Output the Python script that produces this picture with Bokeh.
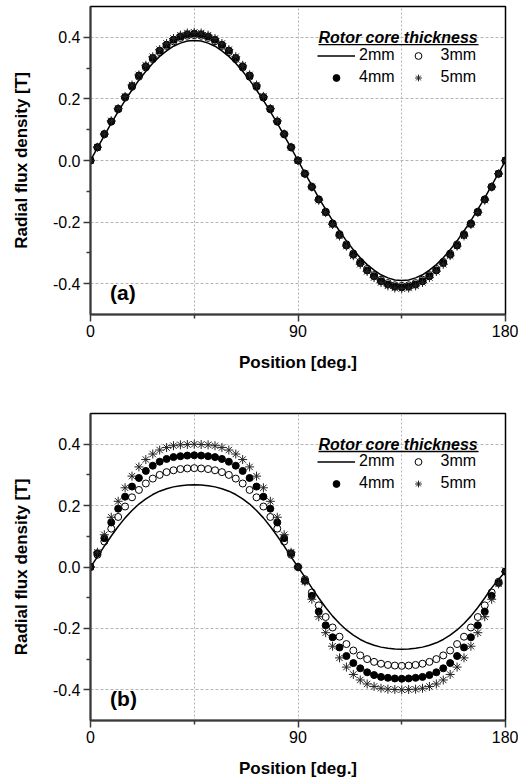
import numpy as np
from bokeh.plotting import figure
from bokeh.layouts import column
from bokeh.models import (Range1d, FixedTicker, PrintfTickFormatter, Legend, LegendItem,
                          Label, BoxAnnotation)
from bokeh.embed import file_html
from bokeh.resources import INLINE

# ---------------- data ----------------
position = [0, 3, 6, 9, 12, 15, 18, 21, 24, 27, 30, 33, 36, 39, 42, 45, 48, 51, 54, 57, 60,
            63, 66, 69, 72, 75, 78, 81, 84, 87, 90, 93, 96, 99, 102, 105, 108, 111, 114, 117,
            120, 123, 126, 129, 132, 135, 138, 141, 144, 147, 150, 153, 156, 159, 162, 165,
            168, 171, 174, 177, 180]

a_2mm = [0.000, 0.041, 0.081, 0.121, 0.159, 0.195, 0.229, 0.261, 0.290, 0.316, 0.338, 0.356, 0.371, 0.381, 0.388, 0.390,
         0.388, 0.381, 0.371, 0.356, 0.338, 0.316, 0.290, 0.261, 0.229, 0.195, 0.159, 0.121, 0.081, 0.041, 0.000,
         -0.041, -0.081, -0.121, -0.159, -0.195, -0.229, -0.261, -0.290, -0.316, -0.338, -0.356, -0.371, -0.381, -0.388, -0.390,
         -0.388, -0.381, -0.371, -0.356, -0.338, -0.316, -0.290, -0.261, -0.229, -0.195, -0.159, -0.121, -0.081, -0.041, 0.000]
a_3mm = [0.000, 0.043, 0.085, 0.126, 0.166, 0.204, 0.239, 0.272, 0.302, 0.329, 0.352, 0.372, 0.387, 0.398, 0.405, 0.407,
         0.405, 0.398, 0.387, 0.372, 0.352, 0.329, 0.302, 0.272, 0.239, 0.204, 0.166, 0.126, 0.085, 0.043, 0.000,
         -0.043, -0.085, -0.126, -0.166, -0.204, -0.239, -0.272, -0.302, -0.329, -0.352, -0.372, -0.387, -0.398, -0.405, -0.407,
         -0.405, -0.398, -0.387, -0.372, -0.352, -0.329, -0.302, -0.272, -0.239, -0.204, -0.166, -0.126, -0.085, -0.043, 0.000]
a_4mm = [0.000, 0.043, 0.086, 0.127, 0.168, 0.206, 0.242, 0.276, 0.306, 0.333, 0.357, 0.376, 0.392, 0.403, 0.410, 0.412,
         0.410, 0.403, 0.392, 0.376, 0.357, 0.333, 0.306, 0.276, 0.242, 0.206, 0.168, 0.127, 0.086, 0.043, 0.000,
         -0.043, -0.086, -0.127, -0.168, -0.206, -0.242, -0.276, -0.306, -0.333, -0.357, -0.376, -0.392, -0.403, -0.410, -0.412,
         -0.410, -0.403, -0.392, -0.376, -0.357, -0.333, -0.306, -0.276, -0.242, -0.206, -0.168, -0.127, -0.086, -0.043, 0.000]
a_5mm = [0.000, 0.043, 0.086, 0.129, 0.169, 0.208, 0.245, 0.278, 0.309, 0.337, 0.360, 0.380, 0.396, 0.407, 0.414, 0.416,
         0.414, 0.407, 0.396, 0.380, 0.360, 0.337, 0.309, 0.278, 0.245, 0.208, 0.169, 0.129, 0.086, 0.043, 0.000,
         -0.043, -0.086, -0.129, -0.169, -0.208, -0.245, -0.278, -0.309, -0.337, -0.360, -0.380, -0.396, -0.407, -0.414, -0.416,
         -0.414, -0.407, -0.396, -0.380, -0.360, -0.337, -0.309, -0.278, -0.245, -0.208, -0.169, -0.129, -0.086, -0.043, 0.000]

b_2mm = [0.000, 0.033, 0.068, 0.101, 0.132, 0.160, 0.184, 0.205, 0.222, 0.236, 0.247, 0.255, 0.261, 0.265, 0.267, 0.268,
         0.267, 0.265, 0.261, 0.255, 0.247, 0.236, 0.222, 0.205, 0.184, 0.160, 0.132, 0.101, 0.068, 0.033, 0.000,
         -0.033, -0.068, -0.101, -0.132, -0.160, -0.184, -0.205, -0.222, -0.236, -0.247, -0.255, -0.261, -0.265, -0.267, -0.268,
         -0.267, -0.265, -0.261, -0.255, -0.247, -0.236, -0.222, -0.205, -0.184, -0.160, -0.132, -0.101, -0.068, -0.040, -0.015]
b_3mm = [0.000, 0.040, 0.083, 0.125, 0.163, 0.197, 0.227, 0.251, 0.272, 0.288, 0.300, 0.309, 0.315, 0.319, 0.321, 0.322,
         0.321, 0.319, 0.315, 0.309, 0.300, 0.288, 0.272, 0.251, 0.227, 0.197, 0.163, 0.125, 0.083, 0.040, 0.000,
         -0.040, -0.083, -0.125, -0.163, -0.197, -0.227, -0.251, -0.272, -0.288, -0.300, -0.309, -0.315, -0.319, -0.321, -0.322,
         -0.321, -0.319, -0.315, -0.309, -0.300, -0.288, -0.272, -0.251, -0.227, -0.197, -0.163, -0.125, -0.083, -0.048, -0.015]
b_4mm = [0.000, 0.045, 0.094, 0.145, 0.190, 0.229, 0.262, 0.290, 0.313, 0.330, 0.343, 0.352, 0.358, 0.361, 0.363, 0.364,
         0.363, 0.361, 0.358, 0.352, 0.343, 0.330, 0.313, 0.290, 0.262, 0.229, 0.190, 0.145, 0.094, 0.045, 0.000,
         -0.045, -0.094, -0.145, -0.190, -0.229, -0.262, -0.290, -0.313, -0.330, -0.343, -0.352, -0.358, -0.361, -0.363, -0.364,
         -0.363, -0.361, -0.358, -0.352, -0.343, -0.330, -0.313, -0.290, -0.262, -0.229, -0.190, -0.145, -0.094, -0.052, -0.015]
b_5mm = [0.000, 0.048, 0.105, 0.162, 0.214, 0.258, 0.296, 0.326, 0.350, 0.368, 0.381, 0.389, 0.395, 0.398, 0.399, 0.400,
         0.399, 0.398, 0.395, 0.389, 0.381, 0.368, 0.350, 0.326, 0.296, 0.258, 0.214, 0.162, 0.105, 0.048, 0.000,
         -0.048, -0.105, -0.162, -0.214, -0.258, -0.296, -0.326, -0.350, -0.368, -0.381, -0.389, -0.395, -0.398, -0.399, -0.400,
         -0.399, -0.398, -0.395, -0.389, -0.381, -0.368, -0.350, -0.326, -0.296, -0.258, -0.214, -0.162, -0.105, -0.055, -0.015]

x_ticks = [0, 90, 180]
x_minor = [45, 135]
x_grid = [45, 90, 135]
y_ticks = [-0.4, -0.2, 0.0, 0.2, 0.4]
y_minor = [-0.3, -0.1, 0.1, 0.3]
labels = ["2mm", "3mm", "4mm", "5mm"]
legend_title = "Rotor core thickness"

FONT = "Liberation Sans"


def make_panel(series, tag, height, top, bottom):
    p = figure(width=518, height=height, x_range=Range1d(0, 180), y_range=Range1d(-0.5, 0.5),
               output_backend="svg", toolbar_location=None,
               min_border_left=90, min_border_right=13, min_border_top=top, min_border_bottom=bottom)
    p.background_fill_color = "white"
    p.border_fill_color = "white"
    p.outline_line_color = "black"
    p.outline_line_width = 1.5

    for ax in (p.xaxis[0], p.yaxis[0]):
        ax.axis_line_width = 2
        ax.axis_line_color = "#3a3a3a"
        ax.major_tick_line_color = "#3a3a3a"
        ax.minor_tick_line_color = "#3a3a3a"
        ax.major_tick_line_width = 1.5
        ax.minor_tick_line_width = 1.5
        ax.major_tick_in = 0
        ax.major_tick_out = 7
        ax.minor_tick_in = 0
        ax.minor_tick_out = 4
        ax.major_label_text_font = FONT
        ax.major_label_text_font_size = "16px"
        ax.major_label_text_color = "black"
        ax.axis_label_text_font = FONT
        ax.axis_label_text_font_size = "17px"
        ax.axis_label_text_font_style = "bold"
        ax.axis_label_text_color = "black"
        ax.major_label_standoff = 3

    p.xaxis.ticker = FixedTicker(ticks=x_ticks, minor_ticks=x_minor)
    p.yaxis.ticker = FixedTicker(ticks=y_ticks, minor_ticks=y_minor)
    p.yaxis.formatter = PrintfTickFormatter(format="%.1f")
    p.xaxis.axis_label = "Position [deg.]"
    p.yaxis.axis_label = "Radial flux density [T]"
    p.xaxis.axis_label_standoff = 13
    p.yaxis.axis_label_standoff = 19

    p.xgrid.ticker = FixedTicker(ticks=x_grid)
    p.ygrid.ticker = FixedTicker(ticks=y_ticks)
    p.xgrid.grid_line_color = "#b4b4b4"
    p.xgrid.grid_line_dash = "2 2"
    p.ygrid.grid_line_color = "#b4b4b4"
    p.ygrid.grid_line_dash = "3 2"

    s2, s3, s4, s5 = series
    r2 = p.line(position, s2, line_color="black", line_width=1.5)
    r3 = p.scatter(position, s3, marker="circle", size=7, fill_color=None,
                   line_color="black", line_width=1)
    r4 = p.scatter(position, s4, marker="circle", size=7, fill_color="black",
                   line_color="black", line_width=1)
    r5 = p.scatter(position, s5, marker="asterisk", size=9, line_color="#222222", line_width=1)

    legend = Legend(items=[LegendItem(label=labels[0], renderers=[r2]),
                           LegendItem(label=labels[1], renderers=[r3]),
                           LegendItem(label=labels[2], renderers=[r4]),
                           LegendItem(label=labels[3], renderers=[r5])],
                    location=(227, 228), orientation="horizontal", ncols=2,
                    glyph_width=38, glyph_height=17, label_height=17, label_standoff=4,
                    spacing=4, padding=0, margin=0,
                    label_text_font=FONT, label_text_font_size="16px",
                    label_text_color="black",
                    border_line_alpha=0, background_fill_alpha=0)
    p.add_layout(legend)

    p.add_layout(Label(x=98.9, y=0.398, text=legend_title, text_font=FONT,
                       text_font_size="16px", text_font_style="bold italic",
                       text_baseline="alphabetic", text_color="black"))
    p.add_layout(BoxAnnotation(left=98.9, right=168.3, top=0.3786, bottom=0.3740,
                               fill_color="black", fill_alpha=1, line_alpha=0))
    p.add_layout(Label(x=8.5, y=-0.427, text=tag, text_font=FONT, text_font_size="21px",
                       text_font_style="bold", text_baseline="middle", text_color="black"))
    return p


pa = make_panel((a_2mm, a_3mm, a_4mm, a_5mm), "(a)", 407, 6, 93)
pb = make_panel((b_2mm, b_3mm, b_4mm, b_5mm), "(b)", 375, 6, 62)

layout = column(pa, pb, spacing=0)
open("out.html", "w").write(file_html(layout, INLINE))
